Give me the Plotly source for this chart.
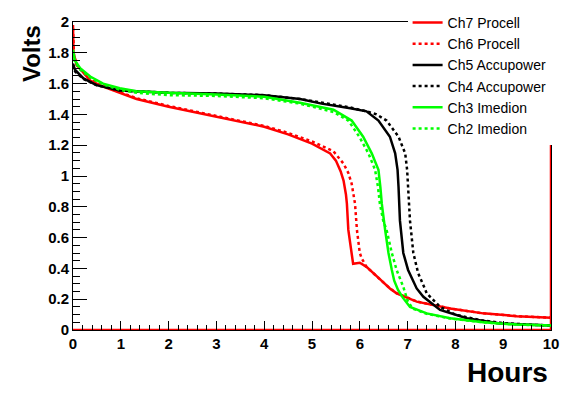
import plotly.graph_objects as go

# ---- data (hours, volts) ----
ch7_x = [0, 0.01, 0.08, 0.22, 0.36, 0.63, 0.98, 1.33, 2.0, 3.0, 4.0, 4.5, 5.0, 5.38, 5.5, 5.6, 5.66, 5.71, 5.73, 5.76,
         5.83, 5.86, 6.0, 6.14, 6.42, 6.63, 6.77, 7.19, 7.89, 8.58, 9.28, 10.0]
ch7_y = [1.98, 1.80, 1.72, 1.667, 1.62, 1.58, 1.54, 1.50, 1.45, 1.385, 1.32, 1.27, 1.21, 1.147, 1.10, 1.03, 0.97, 0.88, 0.82, 0.65,
         0.50, 0.43, 0.437, 0.41, 0.33, 0.27, 0.238, 0.184, 0.14, 0.108, 0.09, 0.08]

ch6_x = [0, 0.02, 0.08, 0.22, 0.36, 0.63, 0.98, 1.33, 2.0, 3.0, 4.0, 4.5, 5.0, 5.45, 5.66, 5.76, 5.83, 5.90, 5.94,
         6.0, 6.04, 6.14, 6.42, 6.63, 6.77, 7.19, 7.89, 8.58, 9.28, 10.0]
ch6_y = [1.96, 1.78, 1.72, 1.67, 1.625, 1.585, 1.545, 1.505, 1.455, 1.39, 1.325, 1.28, 1.225, 1.16, 1.08, 1.02, 0.95, 0.82, 0.65,
         0.50, 0.465, 0.41, 0.33, 0.27, 0.24, 0.185, 0.14, 0.108, 0.09, 0.08]

ch5_x = [0, 0.04, 0.22, 0.49, 0.98, 1.5, 2.0, 3.0, 4.0, 4.75, 5.2, 5.8, 6.14, 6.39, 6.63, 6.74, 6.79, 6.81, 6.84,
         6.91, 7.01, 7.19, 7.33, 7.68, 8.24, 8.93, 9.63, 10.0]
ch5_y = [1.73, 1.69, 1.634, 1.59, 1.555, 1.545, 1.54, 1.535, 1.525, 1.50, 1.47, 1.44, 1.42, 1.36, 1.255, 1.147, 1.04, 0.93, 0.71,
         0.50, 0.39, 0.27, 0.216, 0.13, 0.076, 0.043, 0.032, 0.03]

ch4_x = [0, 0.04, 0.22, 0.49, 0.98, 2.0, 3.0, 4.0, 4.75, 5.2, 5.8, 6.14, 6.35, 6.56, 6.81, 6.95, 6.99, 7.01, 7.05,
         7.12, 7.22, 7.36, 7.40, 7.68, 8.0, 8.5, 9.0, 9.63, 10.0]
ch4_y = [1.72, 1.68, 1.63, 1.59, 1.555, 1.54, 1.535, 1.525, 1.50, 1.475, 1.445, 1.42, 1.40, 1.36, 1.255, 1.147, 1.04, 0.93, 0.71,
         0.50, 0.37, 0.27, 0.238, 0.15, 0.10, 0.065, 0.045, 0.033, 0.03]

ch3_x = [0, 0.04, 0.15, 0.36, 0.63, 0.98, 1.33, 2.0, 3.0, 4.0, 4.75, 5.0, 5.45, 5.83, 6.07, 6.25, 6.39, 6.43, 6.46,
         6.53, 6.60, 6.67, 6.72, 6.80, 6.90, 7.05, 7.40, 7.89, 8.58, 9.28, 10.0]
ch3_y = [1.82, 1.75, 1.70, 1.646, 1.60, 1.57, 1.55, 1.54, 1.53, 1.515, 1.476, 1.46, 1.43, 1.36, 1.255, 1.147, 1.04, 0.93, 0.82,
         0.65, 0.50, 0.39, 0.32, 0.26, 0.21, 0.15, 0.108, 0.076, 0.05, 0.035, 0.03]

ch2_x = [0, 0.04, 0.15, 0.36, 0.63, 0.98, 1.33, 2.0, 3.0, 4.0, 4.75, 5.0, 5.45, 5.76, 5.99, 6.18, 6.32, 6.38, 6.42,
         6.49, 6.56, 6.67, 6.77, 6.91, 7.0, 7.1, 7.40, 7.89, 8.58, 9.28, 10.0]
ch2_y = [1.80, 1.74, 1.69, 1.64, 1.595, 1.56, 1.54, 1.525, 1.52, 1.505, 1.47, 1.45, 1.415, 1.36, 1.255, 1.147, 1.04, 0.93, 0.82,
         0.71, 0.65, 0.50, 0.39, 0.28, 0.19, 0.14, 0.105, 0.075, 0.05, 0.035, 0.03]

base_x = [0, 10, 10]
base_y = [0, 0, 1.25]

x_tickvals = [0, 1, 2, 3, 4, 5, 6, 7, 8, 9, 10]
x_ticklabels = ["0", "1", "2", "3", "4", "5", "6", "7", "8", "9", "10"]
y_tickvals = [0, 0.2, 0.4, 0.6, 0.8, 1.0, 1.2, 1.4, 1.6, 1.8, 2.0]
y_ticklabels = ["0", "0.2", "0.4", "0.6", "0.8", "1", "1.2", "1.4", "1.6", "1.8", "2"]

series = [
    ("Ch7 Procell", ch7_x, ch7_y, "#ff0000", "solid"),
    ("Ch6 Procell", ch6_x, ch6_y, "#ff0000", "dot"),
    ("Ch5 Accupower", ch5_x, ch5_y, "#000000", "solid"),
    ("Ch4 Accupower", ch4_x, ch4_y, "#000000", "dot"),
    ("Ch3 Imedion", ch3_x, ch3_y, "#00ff00", "solid"),
    ("Ch2 Imedion", ch2_x, ch2_y, "#00ff00", "dot"),
]

FONT = "Liberation Sans"

fig = go.Figure()
fig.add_trace(go.Scatter(x=base_x, y=base_y, mode="lines", showlegend=False,
                         line=dict(color="#ff0000", width=2.5), hoverinfo="skip"))
for name, xs, ys, col, dash in series:
    fig.add_trace(go.Scatter(x=xs, y=ys, mode="lines", name=name,
                             line=dict(color=col, width=2.5, dash=dash)))

tickfont = dict(family=FONT, size=15, color="black", weight="bold")
axis_common = dict(showline=True, linecolor="black", linewidth=1, mirror=True,
                   showgrid=False, zeroline=False, ticks="inside", tickcolor="black",
                   tickfont=tickfont)

fig.update_xaxes(range=[0, 10], tickmode="array", tickvals=x_tickvals,
                 ticktext=["<b>%s</b>" % t for t in x_ticklabels], ticklen=9,
                 minor=dict(dtick=0.2, tick0=0, ticks="inside", ticklen=5, tickcolor="black", showgrid=False),
                 **axis_common)
fig.update_yaxes(range=[0, 2], tickmode="array", tickvals=y_tickvals,
                 ticktext=["<b>%s</b>" % t for t in y_ticklabels], ticklen=14,
                 minor=dict(dtick=0.05, tick0=0, ticks="inside", ticklen=7, tickcolor="black", showgrid=False),
                 **axis_common)

# page body has an 8px margin: figure is 8px smaller and margins shifted accordingly
fig.update_layout(
    width=579, height=386,
    margin=dict(l=65, r=36, t=14, b=64, autoexpand=False),
    paper_bgcolor="white", plot_bgcolor="white",
    font=dict(family=FONT, color="black"),
    showlegend=True,
    legend=dict(x=0.70, y=1.049, xanchor="left", yanchor="top",
                bgcolor="white", borderwidth=0,
                font=dict(family=FONT, size=14, color="black"),
                entrywidth=110, entrywidthmode="pixels"),
    annotations=[
        dict(text="Volts", xref="paper", yref="paper", x=-0.0879, y=0.899,
             xanchor="center", yanchor="middle", textangle=-90, showarrow=False,
             font=dict(family=FONT, size=24, color="black", weight="bold")),
        dict(text="Hours", xref="paper", yref="paper", x=0.998, y=-0.1396,
             xanchor="right", yanchor="middle", showarrow=False,
             font=dict(family=FONT, size=28, color="black", weight="bold")),
    ],
)

fig.write_html("out.html")
